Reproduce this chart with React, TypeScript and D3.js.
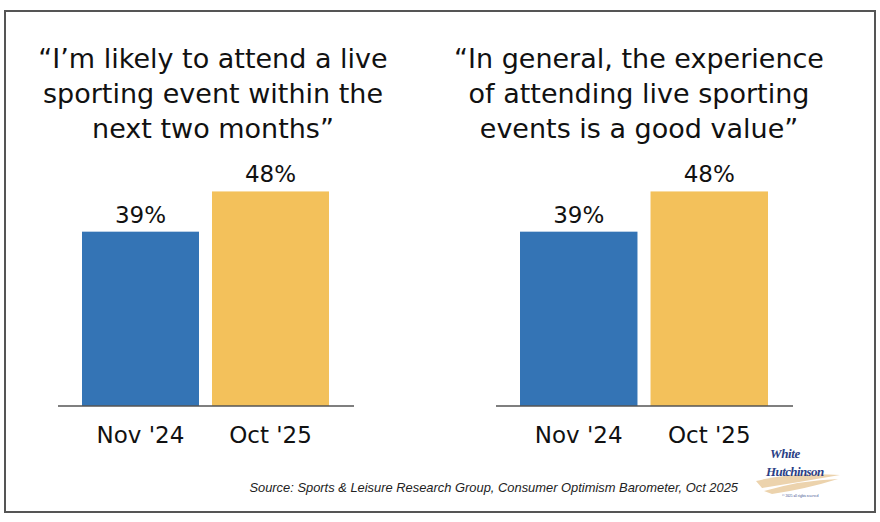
import * as d3 from "d3";

const periods = ["Nov '24", "Oct '25"];
const likelyToAttend = [39, 48];
const goodValue = [39, 48];
const titleLikely = ["\u201CI\u2019m likely to attend a live", "sporting event within the", "next two months\u201D"];
const titleValue = ["\u201CIn general, the experience", "of attending live sporting", "events is a good value\u201D"];
const source = "Source: Sports & Leisure Research Group, Consumer Optimism Barometer, Oct 2025";

const colors = ["#3474b5", "#f3c15b"];
const font = "'Comic Sans MS', 'DejaVu Sans', sans-serif";

const W = 880;
const H = 522;
const baseY = 406;

const y = d3.scaleLinear().domain([0, 100]).range([baseY, baseY - 447]);

function Panel({ title, values, x0, x1, cx }: { title: string[]; values: number[]; x0: number; x1: number; cx: number }) {
  const x = d3.scaleBand<string>().domain(periods).range([x0, x1]).paddingInner(0.1).paddingOuter(0);
  return (
    <g>
      {title.map((t, i) => (
        <text key={i} x={cx} y={68 + i * 35} textAnchor="middle" fontSize={27} fill="#111" fontFamily={font}>
          {t}
        </text>
      ))}
      {periods.map((p, i) => (
        <g key={p}>
          <rect x={x(p)} y={y(values[i])} width={x.bandwidth()} height={baseY - y(values[i])} fill={colors[i]} />
          <text x={x(p)! + x.bandwidth() / 2} y={y(values[i]) - 9} textAnchor="middle" fontSize={23} fill="#111" fontFamily={font}>
            {values[i]}%
          </text>
          <text x={x(p)! + x.bandwidth() / 2} y={443} textAnchor="middle" fontSize={23} fill="#111" fontFamily={font}>
            {p}
          </text>
        </g>
      ))}
      <line x1={x0 - 24} x2={x1 + 25} y1={baseY} y2={baseY} stroke="#555" strokeWidth={1.5} />
    </g>
  );
}

export default function App() {
  return (
    <svg width={W} height={H} style={{ position: "absolute", left: 0, top: 0, background: "#fff" }}>
      <rect x={5} y={11} width={870} height={501} fill="#fff" stroke="#555" strokeWidth={2} />
      <Panel title={titleLikely} values={likelyToAttend} x0={82} x1={329} cx={213} />
      <Panel title={titleValue} values={goodValue} x0={520} x1={768} cx={639} />
      <text x={738} y={492} textAnchor="end" fontSize={12.9} fontStyle="italic" fill="#222" fontFamily="'Liberation Sans', Arial, sans-serif">
        {source}
      </text>
      {/* logo */}
      <g fontFamily="'Liberation Serif', serif" fontStyle="italic" fontWeight="bold" fill="#2b3f86">
        <path d="M756 481 Q792 472 840 475 Q800 482 762 488 Z" fill="#ecd3ad" />
        <path d="M764 491 Q802 480 838 479 Q806 489 772 494 Z" fill="#ecd3ad" />
        <text x={770} y={458} fontSize={13} letterSpacing={-0.4}>White</text>
        <text x={766} y={476} fontSize={13} letterSpacing={-0.6}>Hutchinson</text>
        <text x={782} y={497} fontSize={3.5} fontStyle="normal" fontWeight="normal">© 2025 all rights reserved</text>
      </g>
    </svg>
  );
}
